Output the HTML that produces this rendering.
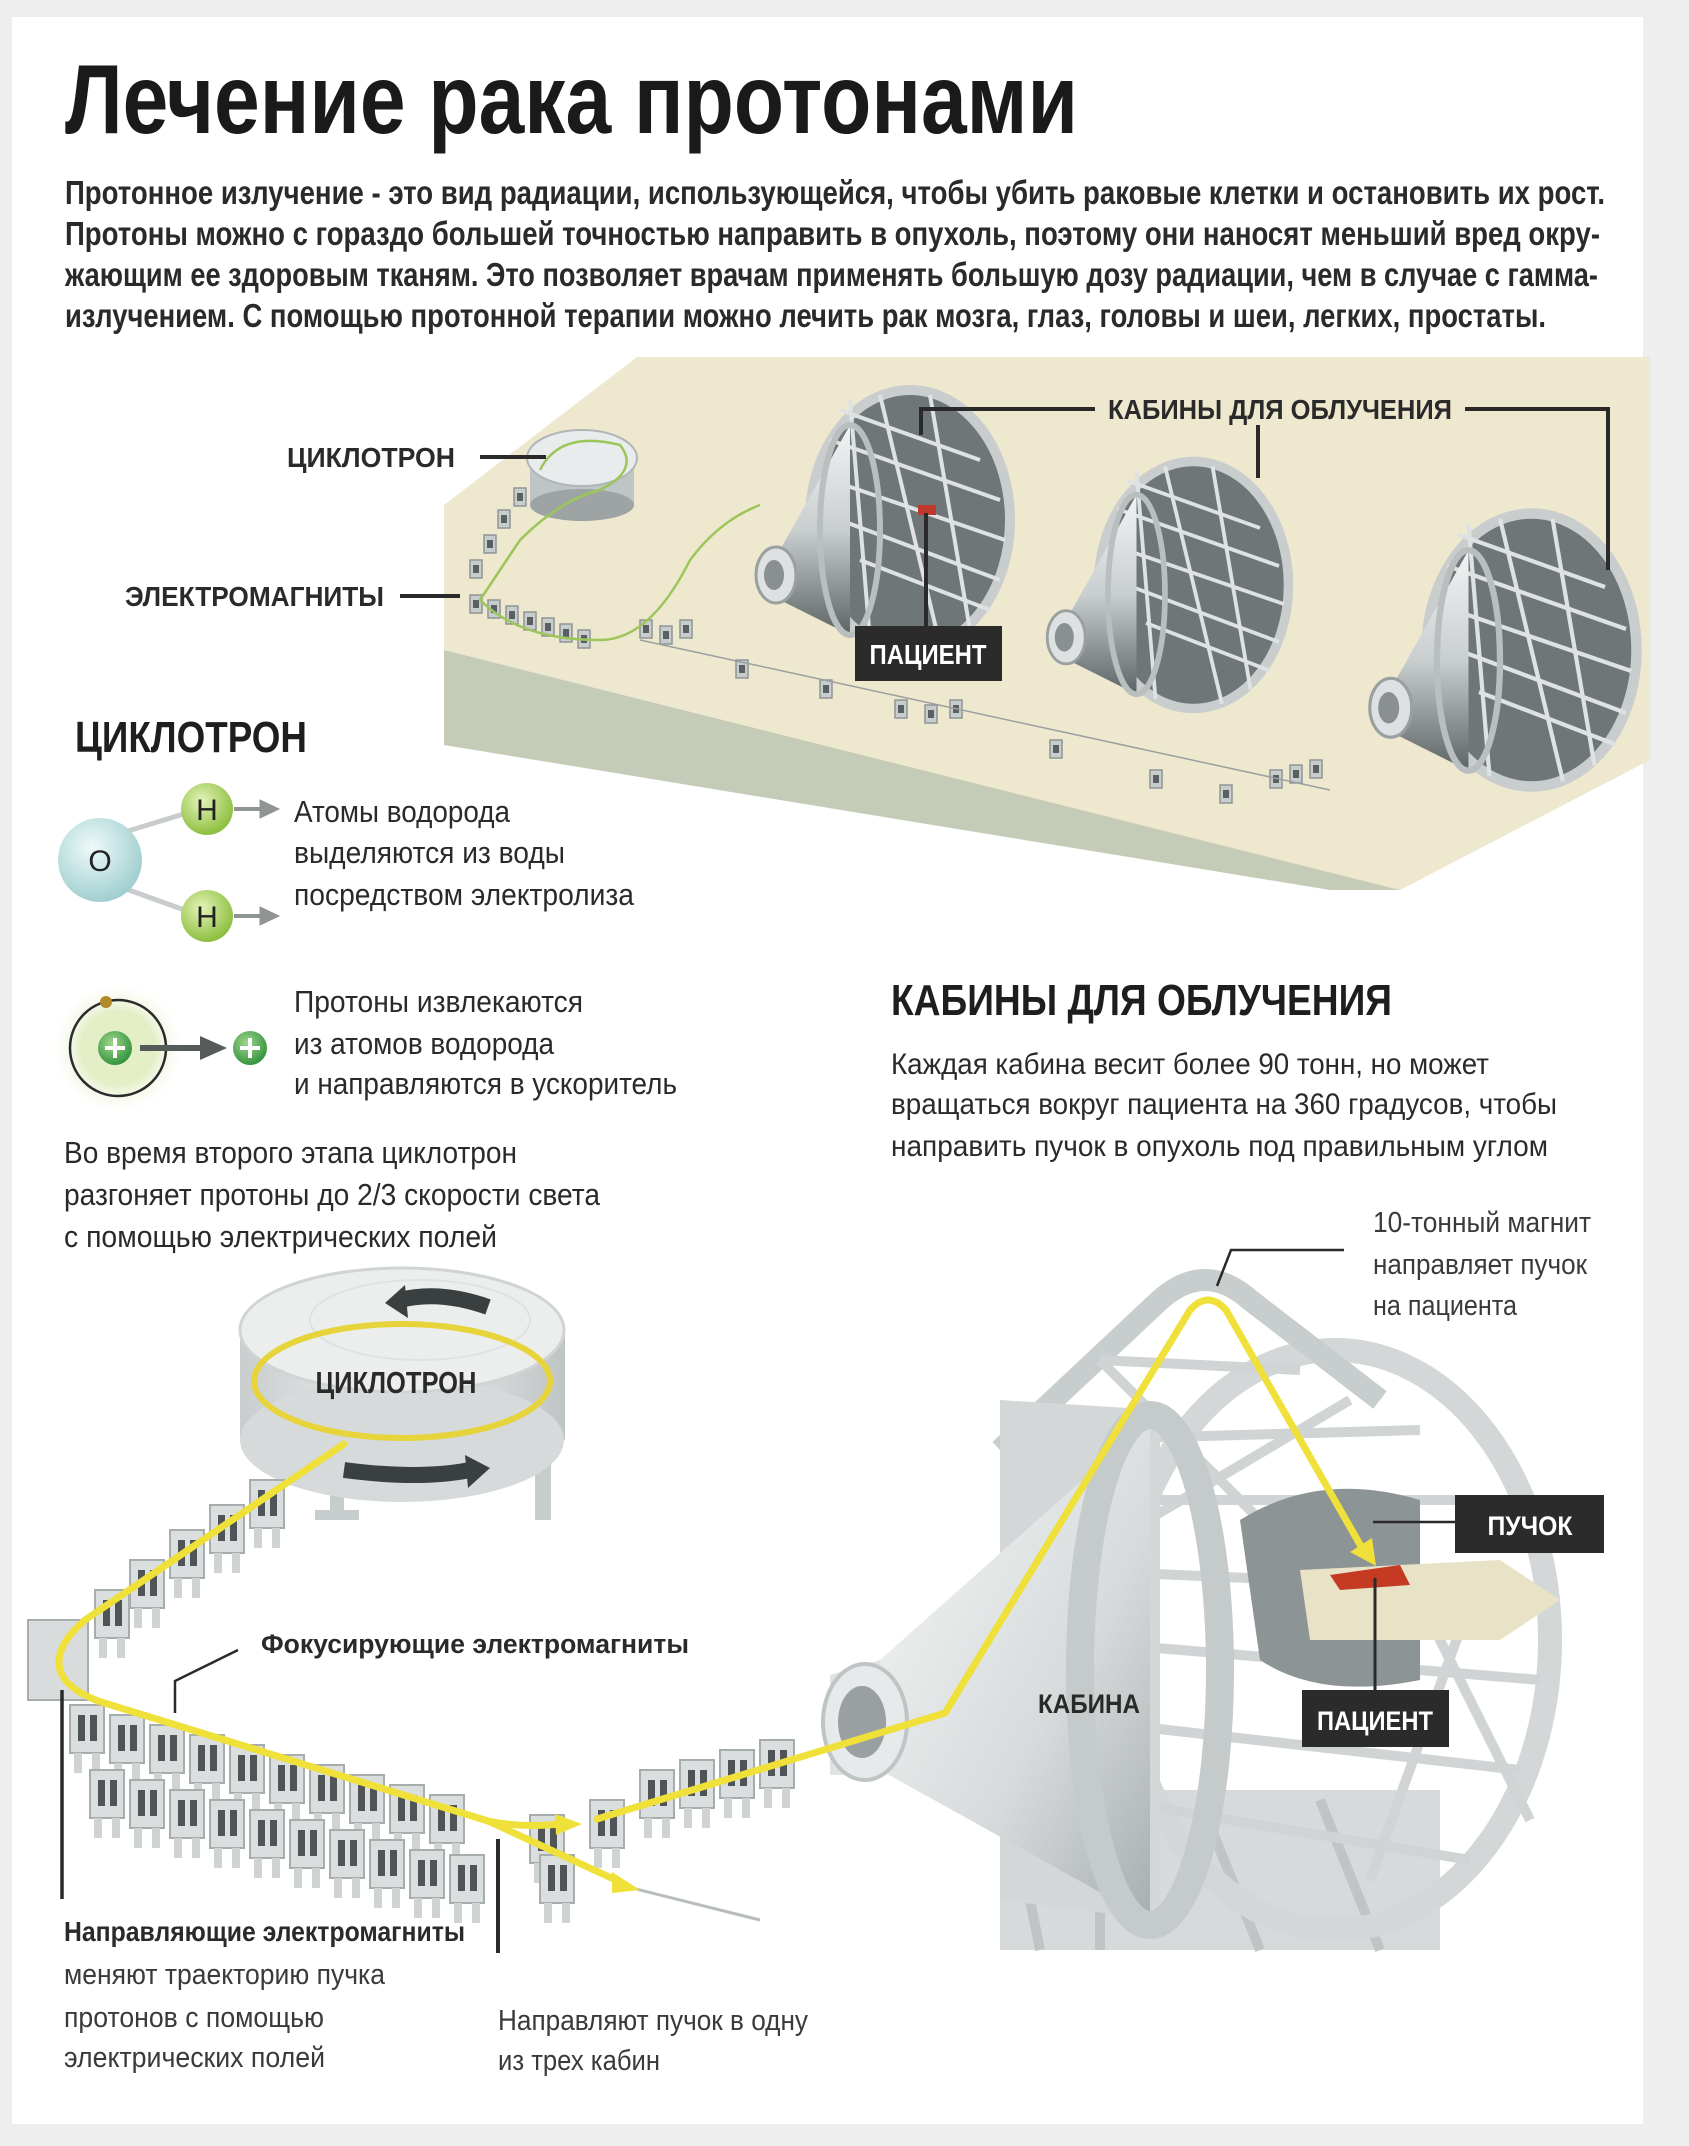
<!DOCTYPE html>
<html><head><meta charset="utf-8"><style>html,body{margin:0;padding:0;background:#eeeeee}svg{display:block}</style></head><body>
<svg width="1689" height="2146" viewBox="0 0 1689 2146" xmlns="http://www.w3.org/2000/svg" font-family="Liberation Sans, sans-serif">
<defs>
<radialGradient id="gO" cx="0.4" cy="0.35" r="0.7"><stop offset="0" stop-color="#eefafa"/><stop offset="1" stop-color="#9ccccc"/></radialGradient>
<radialGradient id="gH" cx="0.4" cy="0.35" r="0.7"><stop offset="0" stop-color="#e4f3b8"/><stop offset="1" stop-color="#86bb36"/></radialGradient>
<radialGradient id="gP" cx="0.4" cy="0.35" r="0.7"><stop offset="0" stop-color="#9fd68a"/><stop offset="1" stop-color="#2e8f3a"/></radialGradient>
<radialGradient id="gGlow" cx="0.5" cy="0.5" r="0.5"><stop offset="0.55" stop-color="#e4efc8"/><stop offset="1" stop-color="#ffffff" stop-opacity="0"/></radialGradient>
<linearGradient id="gCone" x1="0" y1="0" x2="0" y2="1"><stop offset="0" stop-color="#f2f4f4"/><stop offset="0.5" stop-color="#c9cecf"/><stop offset="1" stop-color="#5d6466"/></linearGradient>
<linearGradient id="gConeL" x1="0" y1="0" x2="1" y2="1"><stop offset="0" stop-color="#f7f8f8"/><stop offset="0.6" stop-color="#d7dbdb"/><stop offset="1" stop-color="#a9afb0"/></linearGradient>
<linearGradient id="gSide" x1="0" y1="0" x2="1" y2="0"><stop offset="0" stop-color="#c9cdcd"/><stop offset="0.5" stop-color="#eef0f0"/><stop offset="1" stop-color="#bfc4c4"/></linearGradient>
<g id="gantry">
  <ellipse cx="30" cy="0" rx="100" ry="130" fill="#6f7678" stroke="#c9cdcd" stroke-width="10"/>
  <g stroke="#dfe2e2" stroke-width="4">
    <line x1="-40" y1="-110" x2="100" y2="-60"/><line x1="-50" y1="-80" x2="120" y2="-20"/>
    <line x1="-50" y1="-40" x2="125" y2="20"/><line x1="-40" y1="0" x2="120" y2="60"/>
    <line x1="-20" y1="40" x2="110" y2="90"/><line x1="0" y1="-125" x2="60" y2="125"/>
    <line x1="50" y1="-125" x2="90" y2="110"/><line x1="-30" y1="-120" x2="-10" y2="120"/>
  </g>
  <polygon points="-30,-95 -30,115 -100,80 -100,30" fill="url(#gCone)"/>
  <ellipse cx="-30" cy="10" rx="30" ry="105" fill="none" stroke="#b9bebe" stroke-width="6"/>
  <ellipse cx="-104" cy="55" rx="20" ry="28" fill="#dde1e1" stroke="#9aa0a0" stroke-width="3"/>
  <ellipse cx="-106" cy="55" rx="10" ry="15" fill="#8a9092"/>
</g>
<g id="mag">
  <rect x="0" y="0" width="34" height="48" fill="#dadede" stroke="#a7adad" stroke-width="2"/>
  <rect x="8" y="10" width="7" height="26" fill="#4f5556"/><rect x="20" y="10" width="7" height="26" fill="#4f5556"/>
  <rect x="4" y="48" width="8" height="20" fill="#cfd3d3"/><rect x="22" y="48" width="8" height="20" fill="#cfd3d3"/>
</g>
<g id="smag">
  <rect x="0" y="0" width="12" height="18" fill="#c7cccc" stroke="#8f9595" stroke-width="1.5"/>
  <rect x="3" y="5" width="6" height="8" fill="#5a6061"/>
</g>
</defs>

<rect x="0" y="0" width="1689" height="2146" fill="#eeeeee"/>
<rect x="12" y="17" width="1631" height="2107" fill="#ffffff"/>

<text x="65" y="133" font-size="98" font-weight="bold" fill="#1a1a1a" textLength="1013" lengthAdjust="spacingAndGlyphs">Лечение рака протонами</text>
<g font-size="33" font-weight="bold" fill="#2a2a2a">
<text x="65" y="204" textLength="1540" lengthAdjust="spacingAndGlyphs">Протонное излучение - это вид радиации, использующейся, чтобы убить раковые клетки и остановить их рост.</text>
<text x="65" y="245" textLength="1535" lengthAdjust="spacingAndGlyphs">Протоны можно с гораздо большей точностью направить в опухоль, поэтому они наносят меньший вред окру-</text>
<text x="65" y="286" textLength="1533" lengthAdjust="spacingAndGlyphs">жающим ее здоровым тканям. Это позволяет врачам применять большую дозу радиации, чем в случае с гамма-</text>
<text x="65" y="327" textLength="1481" lengthAdjust="spacingAndGlyphs">излучением. С помощью протонной терапии можно лечить рак мозга, глаз, головы и шеи, легких, простаты.</text>
</g>

<!-- Top platform -->
<polygon points="637,357 1650,357 1650,760 1400,890 444,650 444,505" fill="#eee8cf"/>
<polygon points="444,650 1400,890 1330,890 444,745" fill="#c4cbb6"/>
<g>
<use href="#smag" x="470" y="595"/><use href="#smag" x="488" y="600"/><use href="#smag" x="506" y="606"/><use href="#smag" x="524" y="612"/><use href="#smag" x="542" y="618"/><use href="#smag" x="560" y="624"/><use href="#smag" x="578" y="630"/>
<use href="#smag" x="470" y="560"/><use href="#smag" x="484" y="535"/><use href="#smag" x="498" y="510"/><use href="#smag" x="514" y="488"/>
<use href="#smag" x="640" y="620"/><use href="#smag" x="660" y="626"/><use href="#smag" x="680" y="620"/>
<use href="#smag" x="736" y="660"/><use href="#smag" x="820" y="680"/><use href="#smag" x="895" y="700"/><use href="#smag" x="925" y="705"/><use href="#smag" x="950" y="700"/>
<use href="#smag" x="1050" y="740"/><use href="#smag" x="1150" y="770"/><use href="#smag" x="1220" y="785"/><use href="#smag" x="1270" y="770"/><use href="#smag" x="1290" y="765"/><use href="#smag" x="1310" y="760"/>
</g>
<line x1="640" y1="640" x2="1330" y2="790" stroke="#9aa0a0" stroke-width="1.5"/>
<rect x="530" y="460" width="104" height="45" fill="#bfc4c4"/>
<ellipse cx="582" cy="505" rx="52" ry="16" fill="#9ea4a4"/>
<ellipse cx="582" cy="458" rx="55" ry="28" fill="#e9ecec" stroke="#b0b6b6" stroke-width="2"/>
<path d="M 540 470 Q 560 430 620 445 Q 640 470 600 490 Q 560 500 520 540 Q 500 570 480 600 Q 520 640 600 640 Q 650 640 690 560 Q 720 520 760 505" fill="none" stroke="#9cc55a" stroke-width="2.5"/>
<use href="#gantry" transform="translate(880,520) scale(1.0)"/>
<use href="#gantry" transform="translate(1165,585) scale(0.95)"/>
<use href="#gantry" transform="translate(1500,650) scale(1.05)"/>
<rect x="918" y="505" width="18" height="10" fill="#c0392b"/>
<g font-size="28" font-weight="bold" fill="#2a2a2a">
<text x="287" y="467" textLength="168" lengthAdjust="spacingAndGlyphs">ЦИКЛОТРОН</text>
<text x="125" y="606" textLength="259" lengthAdjust="spacingAndGlyphs">ЭЛЕКТРОМАГНИТЫ</text>
<text x="1108" y="419" textLength="344" lengthAdjust="spacingAndGlyphs">КАБИНЫ ДЛЯ ОБЛУЧЕНИЯ</text>
</g>
<g stroke="#2a2a2a" stroke-width="4" fill="none">
<line x1="480" y1="457" x2="546" y2="457"/>
<line x1="400" y1="596" x2="460" y2="596"/>
<polyline points="1095,409 921,409 921,435"/>
<line x1="1258" y1="425" x2="1258" y2="478"/>
<polyline points="1465,409 1608,409 1608,570"/>
<line x1="926" y1="513" x2="926" y2="626"/>
</g>
<rect x="855" y="626" width="147" height="55" fill="#2b2b2b"/>
<text x="928" y="664" font-size="28" font-weight="bold" fill="#ffffff" text-anchor="middle" textLength="117" lengthAdjust="spacingAndGlyphs">ПАЦИЕНТ</text>

<!-- Cyclotron section -->
<text x="75" y="752" font-size="44" font-weight="bold" fill="#1e1e1e" textLength="232" lengthAdjust="spacingAndGlyphs">ЦИКЛОТРОН</text>
<line x1="115" y1="835" x2="190" y2="812" stroke="#c8cccc" stroke-width="5"/>
<line x1="115" y1="885" x2="190" y2="912" stroke="#c8cccc" stroke-width="5"/>
<circle cx="100" cy="860" r="42" fill="url(#gO)"/>
<text x="100" y="871" font-size="30" fill="#222" text-anchor="middle">O</text>
<circle cx="207" cy="809" r="26" fill="url(#gH)"/>
<text x="207" y="820" font-size="30" fill="#222" text-anchor="middle">H</text>
<circle cx="207" cy="916" r="26" fill="url(#gH)"/>
<text x="207" y="927" font-size="30" fill="#222" text-anchor="middle">H</text>
<g fill="#8f9494" stroke="#8f9494">
<line x1="234" y1="809" x2="262" y2="809" stroke-width="4"/><polygon points="260,800 279,809 260,818"/>
<line x1="234" y1="916" x2="262" y2="916" stroke-width="4"/><polygon points="260,907 279,916 260,925"/>
</g>
<g font-size="31" fill="#2a2a2a">
<text x="294" y="822" textLength="216" lengthAdjust="spacingAndGlyphs">Атомы водорода</text>
<text x="294" y="863" textLength="271" lengthAdjust="spacingAndGlyphs">выделяются из воды</text>
<text x="294" y="905" textLength="340" lengthAdjust="spacingAndGlyphs">посредством электролиза</text>
</g>
<circle cx="118" cy="1048" r="68" fill="url(#gGlow)"/>
<circle cx="118" cy="1048" r="48" fill="none" stroke="#2b2b2b" stroke-width="2.5"/>
<circle cx="106" cy="1002" r="6" fill="#b08a2a"/>
<circle cx="115" cy="1048" r="17" fill="url(#gP)"/>
<path d="M 105 1048 H 125 M 115 1038 V 1058" stroke="#fff" stroke-width="4"/>
<line x1="140" y1="1048" x2="205" y2="1048" stroke="#555a5b" stroke-width="6"/>
<polygon points="200,1036 227,1048 200,1060" fill="#555a5b"/>
<circle cx="250" cy="1048" r="17" fill="url(#gP)"/>
<path d="M 240 1048 H 260 M 250 1038 V 1058" stroke="#fff" stroke-width="4"/>
<g font-size="31" fill="#2a2a2a">
<text x="294" y="1012" textLength="289" lengthAdjust="spacingAndGlyphs">Протоны извлекаются</text>
<text x="294" y="1054" textLength="260" lengthAdjust="spacingAndGlyphs">из атомов водорода</text>
<text x="294" y="1094" textLength="383" lengthAdjust="spacingAndGlyphs">и направляются в ускоритель</text>
<text x="64" y="1163" textLength="453" lengthAdjust="spacingAndGlyphs">Во время второго этапа циклотрон</text>
<text x="64" y="1205" textLength="536" lengthAdjust="spacingAndGlyphs">разгоняет протоны до 2/3 скорости света</text>
<text x="64" y="1247" textLength="433" lengthAdjust="spacingAndGlyphs">с помощью электрических полей</text>
</g>

<text x="891" y="1015" font-size="44" font-weight="bold" fill="#1e1e1e" textLength="501" lengthAdjust="spacingAndGlyphs">КАБИНЫ ДЛЯ ОБЛУЧЕНИЯ</text>
<g font-size="30" fill="#2a2a2a">
<text x="891" y="1074" textLength="598" lengthAdjust="spacingAndGlyphs">Каждая кабина весит более 90 тонн, но может</text>
<text x="891" y="1114" textLength="666" lengthAdjust="spacingAndGlyphs">вращаться вокруг пациента на 360 градусов, чтобы</text>
<text x="891" y="1156" textLength="657" lengthAdjust="spacingAndGlyphs">направить пучок в опухоль под правильным углом</text>
</g>

<!-- Bottom cyclotron -->
<rect x="330" y="1470" width="14" height="45" fill="#c7cccc"/><rect x="315" y="1510" width="44" height="10" fill="#c7cccc"/>
<rect x="535" y="1450" width="16" height="70" fill="#c7cccc"/>
<rect x="240" y="1330" width="325" height="110" fill="url(#gSide)"/>
<ellipse cx="402" cy="1440" rx="162" ry="62" fill="#d6dada"/>
<ellipse cx="402" cy="1330" rx="162" ry="62" fill="#eceeee" stroke="#d0d4d4" stroke-width="3"/>
<ellipse cx="420" cy="1320" rx="110" ry="40" fill="none" stroke="#dfe2e2" stroke-width="2"/>
<path d="M 488 1307 Q 440 1290 400 1300" fill="none" stroke="#3a3f40" stroke-width="16"/>
<polygon points="405,1285 385,1303 408,1318" fill="#3a3f40"/>
<path d="M 344 1470 Q 420 1480 470 1470" fill="none" stroke="#3a3f40" stroke-width="16"/>
<polygon points="465,1455 490,1468 468,1488" fill="#3a3f40"/>
<ellipse cx="402" cy="1381" rx="148" ry="57" fill="none" stroke="#e6d43a" stroke-width="6"/>
<text x="396" y="1393" font-size="31" font-weight="bold" fill="#2a2a2a" text-anchor="middle" textLength="161" lengthAdjust="spacingAndGlyphs">ЦИКЛОТРОН</text>

<g>
<use href="#mag" x="250" y="1480"/><use href="#mag" x="210" y="1505"/><use href="#mag" x="170" y="1530"/><use href="#mag" x="130" y="1560"/><use href="#mag" x="95" y="1590"/>
<rect x="28" y="1620" width="60" height="80" fill="#d8dcdc" stroke="#a7adad" stroke-width="2"/>
<use href="#mag" x="70" y="1705"/><use href="#mag" x="110" y="1715"/><use href="#mag" x="150" y="1725"/><use href="#mag" x="190" y="1735"/>
<use href="#mag" x="230" y="1745"/><use href="#mag" x="270" y="1755"/><use href="#mag" x="310" y="1765"/><use href="#mag" x="350" y="1775"/>
<use href="#mag" x="390" y="1785"/><use href="#mag" x="430" y="1795"/>
<use href="#mag" x="90" y="1770"/><use href="#mag" x="130" y="1780"/><use href="#mag" x="170" y="1790"/><use href="#mag" x="210" y="1800"/><use href="#mag" x="250" y="1810"/><use href="#mag" x="290" y="1820"/><use href="#mag" x="330" y="1830"/><use href="#mag" x="370" y="1840"/><use href="#mag" x="410" y="1850"/><use href="#mag" x="450" y="1855"/>
<use href="#mag" x="530" y="1815"/><use href="#mag" x="540" y="1855"/><use href="#mag" x="590" y="1800"/><use href="#mag" x="640" y="1770"/><use href="#mag" x="680" y="1760"/><use href="#mag" x="720" y="1750"/><use href="#mag" x="760" y="1740"/>
</g>
<line x1="620" y1="1885" x2="760" y2="1920" stroke="#b7bcbc" stroke-width="3"/>

<!-- Big gantry -->
<g>
<rect x="1000" y="1790" width="440" height="160" fill="#d6dada"/>
<g stroke="#bfc4c4" stroke-width="10"><line x1="1010" y1="1800" x2="1040" y2="1950"/><line x1="1100" y1="1800" x2="1100" y2="1950"/><line x1="1200" y1="1800" x2="1260" y2="1950"/><line x1="1320" y1="1800" x2="1380" y2="1950"/></g>
<ellipse cx="1335" cy="1640" rx="215" ry="290" fill="none" stroke="#d3d7d7" stroke-width="24"/>
<path d="M 1000 1450 L 1160 1300 Q 1205 1260 1250 1300 L 1380 1400" fill="none" stroke="#c8cdcd" stroke-width="22"/>
<g stroke="#d0d4d4" stroke-width="10">
<line x1="1100" y1="1360" x2="1300" y2="1370"/><line x1="1060" y1="1440" x2="1420" y2="1430"/><line x1="1060" y1="1500" x2="1480" y2="1500"/>
<line x1="1060" y1="1570" x2="1530" y2="1590"/><line x1="1060" y1="1640" x2="1540" y2="1680"/><line x1="1080" y1="1720" x2="1520" y2="1770"/>
<line x1="1110" y1="1800" x2="1470" y2="1860"/><line x1="1100" y1="1360" x2="1300" y2="1560"/><line x1="1080" y1="1560" x2="1350" y2="1400"/>
<line x1="1420" y1="1600" x2="1530" y2="1820"/><line x1="1460" y1="1630" x2="1370" y2="1880"/>
</g>
<path d="M 1240 1520 Q 1320 1470 1420 1500 L 1420 1680 Q 1320 1700 1260 1660 Z" fill="#8d9496"/>
<polygon points="1300,1570 1500,1560 1560,1600 1500,1640 1310,1640" fill="#e8e2c6"/>
<polygon points="1330,1575 1400,1565 1410,1585 1340,1590" fill="#c43a22"/>
<polygon points="1000,1400 1160,1410 1160,1920 1000,1900" fill="#d3d7d7"/>
<polygon points="1150,1420 1150,1920 880,1770 880,1660" fill="url(#gConeL)"/>
<ellipse cx="1150" cy="1670" rx="70" ry="255" fill="none" stroke="#c5caca" stroke-width="28"/>
<polygon points="830,1675 880,1660 880,1775 830,1775" fill="#dfe3e3"/>
<ellipse cx="865" cy="1722" rx="42" ry="58" fill="#e7eaea" stroke="#bfc4c4" stroke-width="4"/>
<ellipse cx="862" cy="1722" rx="24" ry="36" fill="#9aa0a1"/>
</g>
<text x="1089" y="1713" font-size="27" font-weight="bold" fill="#2a2a2a" text-anchor="middle" textLength="102" lengthAdjust="spacingAndGlyphs">КАБИНА</text>

<g font-size="29" fill="#3a3a3a">
<text x="1373" y="1232" textLength="218" lengthAdjust="spacingAndGlyphs">10-тонный магнит</text>
<text x="1373" y="1274" textLength="214" lengthAdjust="spacingAndGlyphs">направляет пучок</text>
<text x="1373" y="1315" textLength="144" lengthAdjust="spacingAndGlyphs">на пациента</text>
</g>

<g fill="none" stroke="#efe03a" stroke-width="7" stroke-linejoin="round" stroke-linecap="round">
<path d="M 344 1444 L 85 1620 Q 50 1650 62 1675 Q 70 1690 98 1701 L 488 1821 Q 520 1828 560 1824"/>
<path d="M 488 1821 L 620 1882"/>
<path d="M 597 1819 L 945 1713 L 1190 1310 Q 1208 1290 1226 1310 L 1362 1548"/>
</g>
<polygon points="555,1814 582,1824 556,1835" fill="#efe03a"/>
<polygon points="612,1872 640,1890 612,1893" fill="#efe03a"/>
<polygon points="1350,1552 1376,1566 1372,1538" fill="#efe03a"/>

<g stroke="#2a2a2a" fill="none">
<polyline points="238,1650 175,1681 175,1713" stroke-width="2.5"/>
<line x1="62" y1="1690" x2="62" y2="1899" stroke-width="3.5"/>
<line x1="498" y1="1839" x2="498" y2="1953" stroke-width="4"/>
<polyline points="1344,1250 1231,1250 1217,1286" stroke-width="2.5"/>
<line x1="1373" y1="1522" x2="1455" y2="1522" stroke-width="2.5"/>
<line x1="1375" y1="1578" x2="1375" y2="1690" stroke-width="3"/>
</g>
<text x="261" y="1653" font-size="27" font-weight="bold" fill="#2a2a2a" textLength="428" lengthAdjust="spacingAndGlyphs">Фокусирующие электромагниты</text>
<text x="64" y="1941" font-size="28" font-weight="bold" fill="#2a2a2a" textLength="401" lengthAdjust="spacingAndGlyphs">Направляющие электромагниты</text>
<g font-size="29" fill="#3a3a3a">
<text x="64" y="1984" textLength="321" lengthAdjust="spacingAndGlyphs">меняют траекторию пучка</text>
<text x="64" y="2027" textLength="260" lengthAdjust="spacingAndGlyphs">протонов с помощью</text>
<text x="64" y="2067" textLength="261" lengthAdjust="spacingAndGlyphs">электрических полей</text>
<text x="498" y="2030" textLength="310" lengthAdjust="spacingAndGlyphs">Направляют пучок в одну</text>
<text x="498" y="2070" textLength="162" lengthAdjust="spacingAndGlyphs">из трех кабин</text>
</g>
<rect x="1455" y="1495" width="149" height="58" fill="#2b2b2b"/>
<text x="1530" y="1535" font-size="27" font-weight="bold" fill="#fff" text-anchor="middle" textLength="85" lengthAdjust="spacingAndGlyphs">ПУЧОК</text>
<rect x="1302" y="1690" width="147" height="57" fill="#2b2b2b"/>
<text x="1375" y="1730" font-size="27" font-weight="bold" fill="#fff" text-anchor="middle" textLength="116" lengthAdjust="spacingAndGlyphs">ПАЦИЕНТ</text>
</svg>
</body></html>
